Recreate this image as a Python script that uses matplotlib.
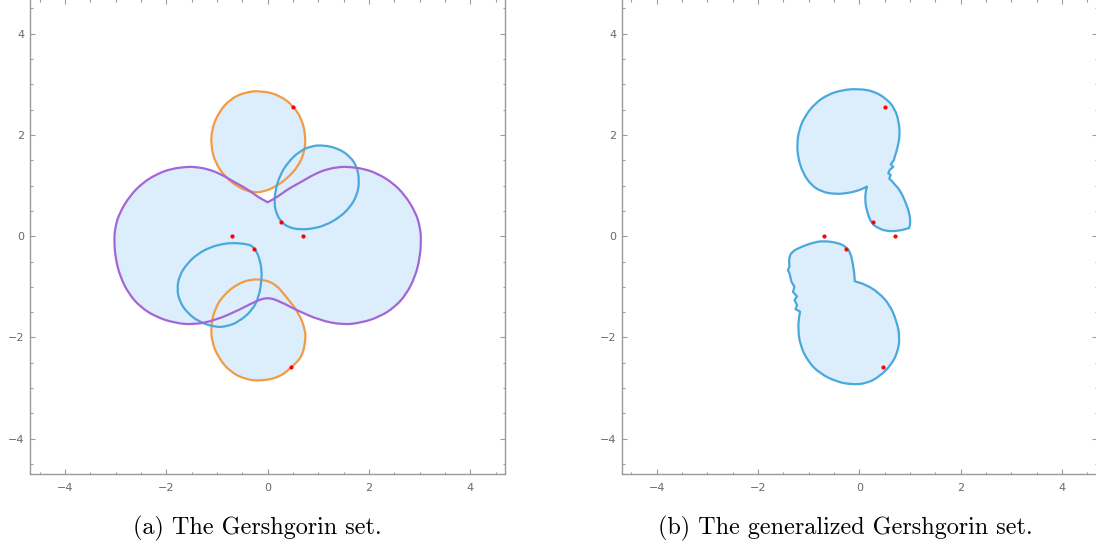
import numpy as np
import matplotlib.pyplot as plt
from matplotlib.path import Path
from matplotlib.patches import PathPatch
from matplotlib.ticker import MultipleLocator

# eigenvalues (red dots), same in both panels
eig_x = [0.51, 0.27, -0.70, 0.70, -0.26, 0.47]
eig_y = [2.56, 0.28, 0.00, 0.00, -0.26, -2.59]

# (a) outlines
purple_x = [0.00, -0.20, -0.40, -0.66, -0.93, -1.19, -1.45, -1.60, -1.91, -2.18, -2.46, -2.71, -2.92,
            -3.01, -3.03, -3.00, -2.91, -2.74, -2.51, -2.21, -1.85, -1.47, -1.03, -0.57, -0.27,
            0.00, 0.27, 0.57, 1.03, 1.47, 1.85, 2.21, 2.51, 2.74, 2.91, 3.00, 3.03, 3.01, 2.92,
            2.71, 2.46, 2.18, 1.91, 1.60, 1.45, 1.19, 0.93, 0.66, 0.40, 0.20]
purple_y = [0.67, 0.78, 0.93, 1.07, 1.23, 1.33, 1.37, 1.37, 1.33, 1.23, 1.06, 0.81, 0.47,
            0.18, -0.10, -0.45, -0.80, -1.14, -1.40, -1.59, -1.71, -1.75, -1.66, -1.46, -1.30,
            -1.20, -1.30, -1.46, -1.66, -1.75, -1.71, -1.59, -1.40, -1.14, -0.80, -0.45, -0.10, 0.18, 0.47,
            0.81, 1.06, 1.23, 1.33, 1.37, 1.37, 1.33, 1.23, 1.07, 0.93, 0.78]

orange_top_x = [-0.10, 0.24, 0.51, 0.68, 0.75, 0.73, 0.60, 0.37, 0.16, -0.07, -0.30, -0.57, -0.84,
                -1.04, -1.12, -1.10, -0.97, -0.74, -0.43]
orange_top_y = [2.87, 2.78, 2.57, 2.30, 1.97, 1.67, 1.37, 1.13, 0.98, 0.88, 0.86, 0.96, 1.17,
                1.46, 1.80, 2.12, 2.44, 2.71, 2.85]

orange_bot_x = [-0.12, 0.24, 0.47, 0.68, 0.75, 0.74, 0.62, 0.36, 0.16, -0.07, -0.33, -0.59, -0.85,
                -1.04, -1.12, -1.10, -0.97, -0.74, -0.43]
orange_bot_y = [-2.86, -2.78, -2.59, -2.38, -2.05, -1.85, -1.52, -1.19, -0.95, -0.86, -0.85, -0.94, -1.14,
                -1.42, -1.77, -2.09, -2.40, -2.68, -2.83]

blue_top_x = [1.10, 1.40, 1.62, 1.76, 1.81, 1.77, 1.62, 1.40, 1.15, 0.90, 0.65, 0.42, 0.27, 0.18,
              0.13, 0.15, 0.24, 0.40, 0.62, 0.85]
blue_top_y = [1.80, 1.73, 1.58, 1.38, 1.10, 0.82, 0.56, 0.36, 0.22, 0.15, 0.13, 0.17, 0.28, 0.43,
              0.62, 0.90, 1.20, 1.46, 1.67, 1.78]

blue_bot_x = [-0.70, -0.45, -0.30, -0.22, -0.16, -0.12, -0.12, -0.17, -0.30, -0.57, -0.80, -1.03,
              -1.36, -1.60, -1.74, -1.79, -1.74, -1.58, -1.38, -1.16, -0.93]
blue_bot_y = [-0.13, -0.15, -0.19, -0.30, -0.45, -0.65, -0.87, -1.19, -1.46, -1.69, -1.78, -1.80,
              -1.69, -1.50, -1.28, -1.04, -0.77, -0.53, -0.35, -0.23, -0.16]

# (b) generalized set, two pieces
gen_top_x = [-0.03, 0.27, 0.53, 0.70, 0.78, 0.80, 0.76, 0.70, 0.68, 0.62, 0.67, 0.60, 0.57, 0.62,
             0.59, 0.64, 0.70, 0.80, 0.91, 0.99, 1.01, 0.98, 0.76, 0.53, 0.37, 0.24, 0.15, 0.11,
             0.13, 0.15, 0.01, -0.22, -0.49, -0.75, -0.95, -1.11, -1.21, -1.23, -1.19, -1.08,
             -0.88, -0.62, -0.32]
gen_top_y = [2.91, 2.87, 2.72, 2.52, 2.26, 2.00, 1.77, 1.57, 1.50, 1.42, 1.37, 1.31, 1.24, 1.21,
             1.14, 1.09, 1.02, 0.91, 0.68, 0.45, 0.25, 0.16, 0.10, 0.10, 0.16, 0.25, 0.48, 0.72,
             0.91, 0.98, 0.91, 0.85, 0.83, 0.88, 1.01, 1.24, 1.54, 1.83, 2.10, 2.36,
             2.62, 2.80, 2.89]

gen_bot_x = [-0.72, -0.42, -0.26, -0.17, -0.13, -0.10, -0.09, 0.14, 0.40, 0.60, 0.73, 0.80, 0.76,
             0.63, 0.40, 0.14, -0.16, -0.46, -0.78, -1.01, -1.17, -1.21, -1.19, -1.17, -1.26,
             -1.23, -1.28, -1.23, -1.31, -1.28, -1.34, -1.38, -1.41, -1.38, -1.39, -1.34, -1.15, -0.92]
gen_bot_y = [-0.09, -0.13, -0.21, -0.34, -0.54, -0.73, -0.89, -0.96, -1.13, -1.36, -1.66, -1.98, -2.28,
             -2.54, -2.77, -2.91, -2.93, -2.87, -2.71, -2.48, -2.15, -1.82, -1.59, -1.49, -1.44,
             -1.36, -1.26, -1.19, -1.10, -1.00, -0.90, -0.73, -0.67, -0.60, -0.44, -0.31, -0.21, -0.13]

fill_col = '#DCEDFC'
orange = '#F29B45'
blue = '#4AA8DC'
purple = '#A466D6'
frame_col = '#9a9a9a'
label_col = '#6a6a6a'

W, H = 1096, 550


def style_axes(ax):
    ax.set_xlim(-4.69, 4.69)
    ax.set_ylim(-4.69, 4.69)
    ax.xaxis.set_major_locator(MultipleLocator(2))
    ax.yaxis.set_major_locator(MultipleLocator(2))
    ax.xaxis.set_minor_locator(MultipleLocator(0.5))
    ax.yaxis.set_minor_locator(MultipleLocator(0.5))
    ax.tick_params(which='both', direction='in', top=True, right=True,
                   color=frame_col, labelcolor=label_col, labelsize=8, width=0.8)
    ax.tick_params(which='major', length=3.5)
    ax.tick_params(which='minor', length=1.8)
    ax.tick_params(axis='x', pad=7)
    ax.tick_params(axis='y', pad=4)
    for s in ax.spines.values():
        s.set_color(frame_col)
        s.set_linewidth(1.0)


def smooth_path(xs, ys, corners=()):
    # traced points used as quadratic bezier controls, closed loop;
    # a corner point is doubled so the outline passes through it sharply
    pts = []
    for i, p in enumerate(zip(xs, ys)):
        pts.append(p)
        if i in corners:
            pts.append(p)
    pts = np.array(pts)
    mids = (pts + np.roll(pts, -1, axis=0)) / 2
    verts = [mids[-1]]
    codes = [Path.MOVETO]
    for p, m in zip(pts, mids):
        verts += [p, m]
        codes += [Path.CURVE3, Path.CURVE3]
    verts.append(mids[-1])
    codes.append(Path.CLOSEPOLY)
    return Path(verts, codes)


def draw_shapes(ax, shapes):
    paths = [(smooth_path(xs, ys, c), col) for xs, ys, col, c in shapes]
    for p, col in paths:
        ax.add_patch(PathPatch(p, facecolor=fill_col, edgecolor='none', zorder=1))
    for p, col in paths:
        ax.add_patch(PathPatch(p, facecolor='none', edgecolor=col, lw=1.6,
                               joinstyle='round', zorder=2))
    ax.scatter(eig_x, eig_y, s=9, color='red', zorder=3, linewidths=0)


def main():
    fig = plt.figure(figsize=(W / 100, H / 100), dpi=100)
    ax1 = fig.add_axes([30 / W, 76.3 / H, 475.3 / W, 475 / H])
    ax2 = fig.add_axes([621.7 / W, 76.3 / H, 475.3 / W, 475 / H])

    draw_shapes(ax1, [
        (orange_top_x, orange_top_y, orange, ()),
        (orange_bot_x, orange_bot_y, orange, ()),
        (blue_top_x, blue_top_y, blue, ()),
        (blue_bot_x, blue_bot_y, blue, ()),
        (purple_x, purple_y, purple, (0,)),
    ])
    draw_shapes(ax2, [
        (gen_top_x, gen_top_y, blue, tuple(range(8, 16)) + (21, 29)),
        (gen_bot_x, gen_bot_y, blue, (6,) + tuple(range(23, 34))),
    ])

    for ax in (ax1, ax2):
        style_axes(ax)

    fig.text(257 / W, 1 - 528 / H, '(a) The Gershgorin set.', family='cmr10',
             fontsize=17.4, ha='center', va='center')
    fig.text(845 / W, 1 - 528 / H, '(b) The generalized Gershgorin set.', family='cmr10',
             fontsize=17.4, ha='center', va='center')

    fig.savefig('out.png', dpi=100)


main()
